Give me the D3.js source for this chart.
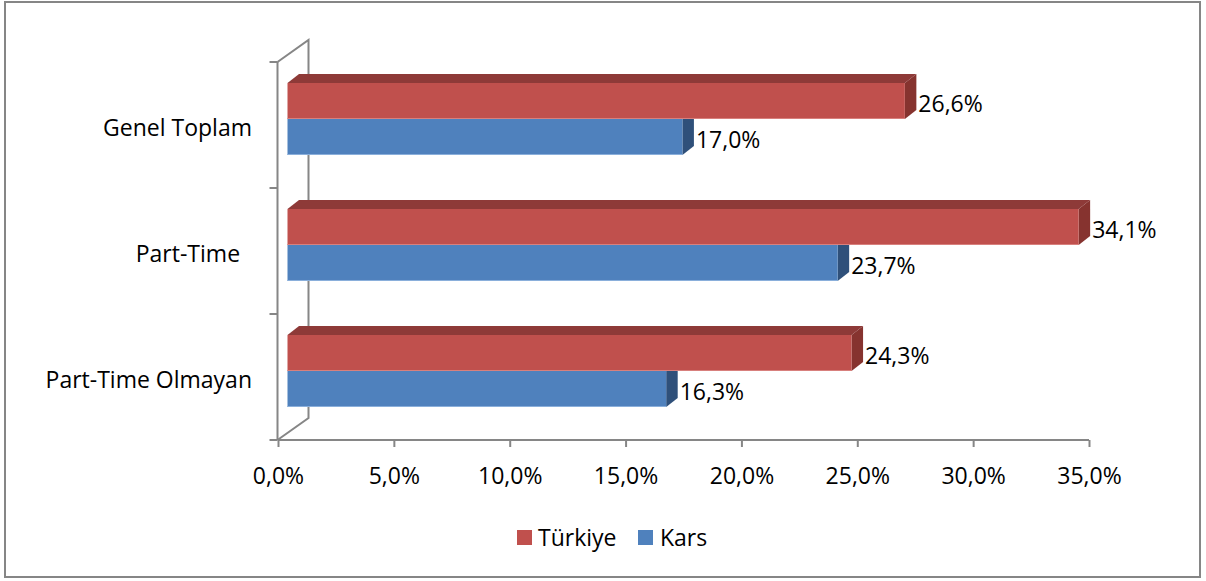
<!DOCTYPE html>
<html>
<head>
<meta charset="utf-8">
<script src="https://cdn.jsdelivr.net/npm/d3@7/dist/d3.min.js"></script>
<style>
  html, body { margin: 0; padding: 0; background: #fff; }
  svg text { font-family: "Open Sans", sans-serif; font-size: 23px; fill: #000; white-space: pre; }
</style>
</head>
<body>
<svg id="chart" width="1206" height="581"></svg>
<script>
const categories = ["Genel Toplam", "Part-Time  ", "Part-Time Olmayan"];
const seriesNames = ["Türkiye", "Kars"];
const turkiyeValues = [26.6, 34.1, 24.3];
const karsValues = [17.0, 23.7, 16.3];
const xTicks = [0, 5, 10, 15, 20, 25, 30, 35];

const colors = {
  "Türkiye": { front: "#C0504D", top: "#8E3A38", side: "#86332F", edge: "#D8807D" },
  "Kars":    { front: "#4F81BD", top: "#385D8A", side: "#2F507A", edge: "#8BB0DC" }
};
const seriesValues = { "Türkiye": turkiyeValues, "Kars": karsValues };

const svg = d3.select("#chart");
const fmt = v => d3.format(".1f")(v).replace(".", ",") + "%";

// outer border
svg.append("rect").attr("x", 5).attr("y", 2).attr("width", 1195).attr("height", 575)
  .attr("fill", "#fff").attr("stroke", "#868686").attr("stroke-width", 2);

const x = d3.scaleLinear().domain([0, 35]).range([278, 1089]);
const y = d3.scaleBand().domain(categories).range([62, 440]).paddingInner(0.4286).paddingOuter(0.2143);
const ySub = d3.scaleBand().domain(seriesNames).range([0, y.bandwidth()]);

const wall = { dx: 31, dy: -22 };
const barOff = { dx: 10.5, dy: -6 };
const barDepth = { dx: 11.5, dy: -9 };
const axisColor = "#868686";

// side wall outline (back line + diagonals)
const frontX = 277.5, plotTop = 62, plotBottom = 440;
svg.append("path")
  .attr("d", `M${frontX},${plotTop} L${frontX + wall.dx},${plotTop + wall.dy} L${frontX + wall.dx},${plotBottom + wall.dy} L${frontX},${plotBottom}`)
  .attr("fill", "none").attr("stroke", axisColor).attr("stroke-width", 2);

// front vertical axis
svg.append("line").attr("x1", frontX).attr("x2", frontX).attr("y1", plotTop).attr("y2", plotBottom)
  .attr("stroke", axisColor).attr("stroke-width", 2);
const catTicks = [plotTop].concat(categories.map(c => y(c) - y.step() * y.paddingInner() / 2 + y.step()));
svg.selectAll(".ytick").data(catTicks).enter().append("line")
  .attr("x1", frontX - 8).attr("x2", frontX).attr("y1", d => d).attr("y2", d => d)
  .attr("stroke", axisColor).attr("stroke-width", 2);

// x axis
const xAxis = d3.axisBottom(x).tickValues(xTicks).tickSize(7).tickPadding(21).tickFormat(fmt);
const gx = svg.append("g").attr("transform", `translate(0,${plotBottom})`).call(xAxis);
gx.select(".domain").attr("stroke", axisColor).attr("stroke-width", 2).attr("d", `M${x(0)},0H${x(35)}`);
gx.selectAll(".tick line").attr("stroke", axisColor).attr("stroke-width", 2);
gx.selectAll(".tick text").attr("font-family", null).attr("font-size", null).attr("fill", "#000");
gx.attr("font-family", null).attr("font-size", null);

// category labels
svg.selectAll(".catlabel").data(categories).enter().append("text")
  .attr("x", 252).attr("y", c => y(c) + y.bandwidth() / 2 + 3)
  .attr("dy", "0.35em").attr("text-anchor", "end").text(c => c);

// bars
const drawOrder = ["Kars", "Türkiye"];
categories.forEach((c, i) => {
  drawOrder.forEach(s => {
    const v = seriesValues[s][i];
    const col = colors[s];
    const x0 = x(0) + 9.5, x1 = x(v) + barOff.dx;
    const y0 = y(c) + ySub(s) + barOff.dy, h = ySub.bandwidth();
    const g = svg.append("g");
    g.append("polygon").attr("points",
      [[x0, y0], [x1, y0], [x1 + barDepth.dx, y0 + barDepth.dy], [x0 + barDepth.dx, y0 + barDepth.dy]].map(p => p.join(",")).join(" "))
      .attr("fill", col.top);
    g.append("polygon").attr("points",
      [[x1, y0], [x1 + barDepth.dx, y0 + barDepth.dy], [x1 + barDepth.dx, y0 + h + barDepth.dy], [x1, y0 + h]].map(p => p.join(",")).join(" "))
      .attr("fill", col.side);
    g.append("rect").attr("x", x0).attr("y", y0).attr("width", x1 - x0).attr("height", h).attr("fill", col.front);
    g.append("line").attr("x1", x0).attr("x2", x1).attr("y1", y0 + h - 0.5).attr("y2", y0 + h - 0.5)
      .attr("stroke", col.edge).attr("stroke-width", 1);
    svg.append("text").attr("x", x1 + barDepth.dx + 2).attr("y", y0 + h / 2 + 3)
      .attr("dy", "0.35em").text(fmt(v));
  });
});

// legend
const legend = [{ name: "Türkiye", sx: 517, tx: 538 }, { name: "Kars", sx: 638, tx: 660 }];
legend.forEach(l => {
  svg.append("rect").attr("x", l.sx).attr("y", 530).attr("width", 15).attr("height", 15).attr("fill", colors[l.name].front);
  svg.append("text").attr("x", l.tx).attr("y", 538).attr("dy", "0.35em").text(l.name);
});
</script>
</body>
</html>
